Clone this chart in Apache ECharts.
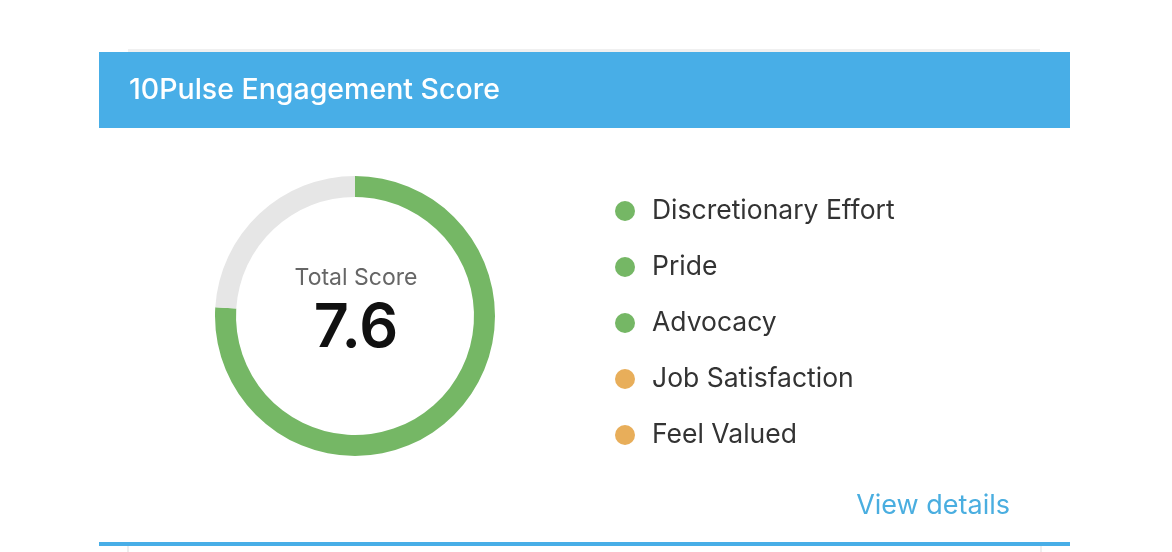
<!DOCTYPE html>
<html>
<head>
<meta charset="utf-8">
<script src="https://cdn.jsdelivr.net/npm/echarts@6/dist/echarts.min.js"></script>
<style>
html,body{margin:0;padding:0;background:#fff;}
#chart{width:1172px;height:552px;}
</style>
</head>
<body>
<div id="chart"></div>
<script>
var titleText = '10Pulse Engagement Score';
var scoreLabel = 'Total Score';
var totalScore = 7.6;
var maxScore = 10;
var categories = ['Discretionary Effort', 'Pride', 'Advocacy', 'Job Satisfaction', 'Feel Valued'];
var categoryStatus = ['good', 'good', 'good', 'fair', 'fair'];
var linkText = 'View details';

var FONT = 'Inter, Lato, "Noto Sans", sans-serif';
var statusColor = { good: '#75b765', fair: '#e8ae5a' };

var chart = echarts.init(document.getElementById('chart'), null, { renderer: 'canvas' });

var option = {
  backgroundColor: '#ffffff',
  animation: false,
  legend: {
    orient: 'vertical',
    left: 610,
    top: 190,
    icon: 'circle',
    itemWidth: 20,
    itemHeight: 20,
    itemGap: 24,
    selectedMode: false,
    data: categories,
    textStyle: { fontFamily: FONT, fontSize: 26.5, color: '#333333', lineHeight: 32, padding: [0, 0, 0, 12] }
  },
  graphic: [
    { type: 'rect', shape: { x: 128, y: 49, width: 912, height: 3 }, style: { fill: '#f0f0f0' }, silent: true },
    { type: 'rect', shape: { x: 99, y: 52, width: 971, height: 76 }, style: { fill: '#48aee7' }, silent: true },
    { type: 'text', x: 129, y: 90, style: { text: titleText, fill: '#ffffff', font: '500 28.5px ' + FONT, textVerticalAlign: 'middle' }, silent: true },
    { type: 'text', x: 356, y: 278, style: { text: scoreLabel, fill: '#666666', font: '23px ' + FONT, textAlign: 'center', textVerticalAlign: 'middle' }, silent: true },
    { type: 'text', x: 356, y: 329, style: { text: String(totalScore), fill: '#111111', font: '600 61px ' + FONT, textAlign: 'center', textVerticalAlign: 'middle' }, silent: true },
    { type: 'text', x: 1010, y: 506, style: { text: linkText, fill: '#4aaee0', font: '27px ' + FONT, textAlign: 'right', textVerticalAlign: 'middle' }, silent: true },
    { type: 'rect', shape: { x: 99, y: 542, width: 971, height: 4 }, style: { fill: '#48aee7' }, silent: true },
    { type: 'rect', shape: { x: 127, y: 546, width: 2, height: 6 }, style: { fill: '#eeeeee' }, silent: true },
    { type: 'rect', shape: { x: 1040, y: 546, width: 2, height: 6 }, style: { fill: '#eeeeee' }, silent: true }
  ],
  series: [
    {
      type: 'pie',
      center: [355, 316],
      radius: [119, 140],
      startAngle: 90,
      clockwise: true,
      silent: true,
      label: { show: false },
      labelLine: { show: false },
      emphasis: { disabled: true },
      data: [
        { name: 'score', value: totalScore, itemStyle: { color: '#75b765' } },
        { name: 'rest', value: maxScore - totalScore, itemStyle: { color: '#e6e6e6' } }
      ]
    },
    {
      type: 'pie',
      center: [355, 316],
      radius: [0, 0],
      stillShowZeroSum: false,
      silent: true,
      label: { show: false },
      labelLine: { show: false },
      data: categories.map(function (c, i) {
        return { name: c, value: 0, itemStyle: { color: statusColor[categoryStatus[i]] } };
      })
    }
  ]
};
chart.setOption(option);
</script>
</body>
</html>
